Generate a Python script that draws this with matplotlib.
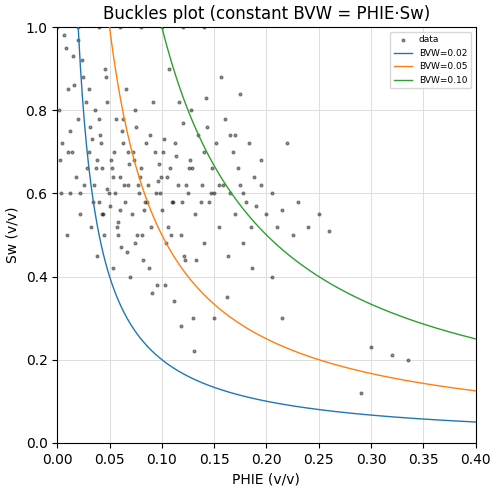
import numpy as np
import matplotlib.pyplot as plt

# Approximate sample of the data cloud
phie = [0.005, 0.01, 0.012, 0.015, 0.02, 0.022, 0.025, 0.028, 0.03, 0.032,
        0.035, 0.036, 0.038, 0.04, 0.041, 0.043, 0.045, 0.046, 0.048, 0.05,
        0.051, 0.053, 0.055, 0.056, 0.058, 0.06, 0.061, 0.063, 0.065, 0.066,
        0.068, 0.07, 0.071, 0.073, 0.075, 0.076, 0.078, 0.08, 0.082, 0.084,
        0.085, 0.087, 0.09, 0.092, 0.094, 0.095, 0.097, 0.1, 0.102, 0.104,
        0.105, 0.107, 0.11, 0.112, 0.114, 0.115, 0.118, 0.12, 0.122, 0.125,
        0.127, 0.13, 0.132, 0.135, 0.138, 0.14, 0.142, 0.145, 0.148, 0.15,
        0.152, 0.155, 0.158, 0.16, 0.163, 0.165, 0.168, 0.17, 0.173, 0.175,
        0.178, 0.18, 0.183, 0.185, 0.188, 0.19, 0.195, 0.2, 0.205, 0.21,
        0.215, 0.22, 0.225, 0.23, 0.24, 0.25, 0.26, 0.29, 0.3, 0.32,
        0.335, 0.003, 0.008, 0.012, 0.018, 0.024, 0.03, 0.034, 0.04, 0.044,
        0.048, 0.052, 0.057, 0.062, 0.067, 0.072, 0.077, 0.083, 0.088, 0.093,
        0.098, 0.103, 0.108, 0.113, 0.118, 0.123, 0.128, 0.133, 0.14, 0.147,
        0.155, 0.162, 0.17, 0.178, 0.186, 0.195, 0.205, 0.215, 0.002, 0.006,
        0.01, 0.016, 0.022, 0.027, 0.033, 0.038, 0.043, 0.047, 0.053, 0.058,
        0.063, 0.068, 0.074, 0.079, 0.086, 0.091, 0.096, 0.101, 0.106, 0.111,
        0.116, 0.121, 0.126, 0.131, 0.137, 0.143, 0.15, 0.157, 0.165, 0.175,
        0.004, 0.009, 0.014, 0.02, 0.026, 0.031, 0.037, 0.042, 0.049, 0.054,
        0.06, 0.064, 0.069, 0.074, 0.081, 0.089, 0.099, 0.109, 0.119, 0.129]
sw = [0.72, 0.85, 0.6, 0.93, 0.78, 0.55, 0.88, 0.66, 0.7, 0.52,
      0.62, 0.8, 0.45, 0.58, 0.74, 0.66, 0.5, 0.9, 0.61, 0.57,
      0.68, 0.42, 0.6, 0.78, 0.53, 0.64, 0.47, 0.72, 0.58, 0.85,
      0.62, 0.4, 0.55, 0.68, 0.76, 0.5, 0.6, 0.66, 0.44, 0.58,
      0.72, 0.62, 0.52, 0.82, 0.6, 0.38, 0.67, 0.56, 0.73, 0.48,
      0.64, 0.9, 0.58, 0.34, 0.69, 0.62, 0.5, 0.77, 0.44, 0.6,
      0.68, 0.3, 0.55, 0.74, 0.62, 0.48, 0.83, 0.58, 0.66, 0.3,
      0.72, 0.52, 0.62, 0.78, 0.45, 0.6, 0.7, 0.55, 0.66, 0.62,
      0.48, 0.58, 0.72, 0.52, 0.64, 0.57, 0.62, 0.55, 0.6, 0.52,
      0.56, 0.72, 0.5, 0.58, 0.52, 0.55, 0.51, 0.12, 0.23, 0.21,
      0.2, 0.68, 0.95, 0.75, 0.64, 0.92, 0.85, 0.58, 0.78, 0.55,
      0.82, 0.66, 0.52, 0.75, 0.46, 0.7, 0.62, 0.56, 0.42, 0.7,
      0.6, 0.38, 0.66, 0.72, 0.28, 0.62, 0.8, 0.44, 0.7, 0.6,
      0.62, 0.35, 0.74, 0.6, 0.42, 0.68, 0.4, 0.3, 0.8, 0.98,
      0.7, 0.86, 0.6, 0.82, 0.73, 0.68, 0.55, 0.88, 0.64, 0.5,
      0.78, 0.7, 0.48, 0.64, 0.58, 0.36, 0.63, 0.7, 0.52, 0.58,
      0.82, 0.45, 0.66, 0.22, 0.58, 0.76, 0.6, 0.88, 0.74, 0.84,
      0.6, 0.5, 0.7, 0.97, 0.62, 0.76, 0.66, 0.72, 0.6, 0.7,
      0.56, 0.62, 0.67, 0.8, 0.5, 0.74, 0.64, 0.5, 0.58, 0.66]
top_phie = [0.0, 0.02, 0.04, 0.06, 0.08, 0.1, 0.12, 0.14]
bvw_values = [0.02, 0.05, 0.10]
curve_phie = np.linspace(0.001, 0.4, 400)

fig, ax = plt.subplots(figsize=(4.98, 4.92), dpi=100)
ax.scatter(phie + top_phie, sw + [1.0] * len(top_phie), s=4, c='k', alpha=0.4,
           label='data', zorder=2)
for bvw in bvw_values:
    ax.plot(curve_phie, bvw / curve_phie, lw=1, label=f'BVW={bvw:.2f}', zorder=3)
ax.set_xlim(0, 0.4)
ax.set_ylim(0, 1)
ax.set_xlabel('PHIE (v/v)')
ax.set_ylabel('Sw (v/v)')
ax.set_title('Buckles plot (constant BVW = PHIE·Sw)')
ax.grid(True, color='#dddddd', lw=0.7)
ax.legend(loc='upper right', fontsize=6.5)
fig.subplots_adjust(left=0.115, right=0.955, top=0.945, bottom=0.1)
fig.savefig('out.png')
